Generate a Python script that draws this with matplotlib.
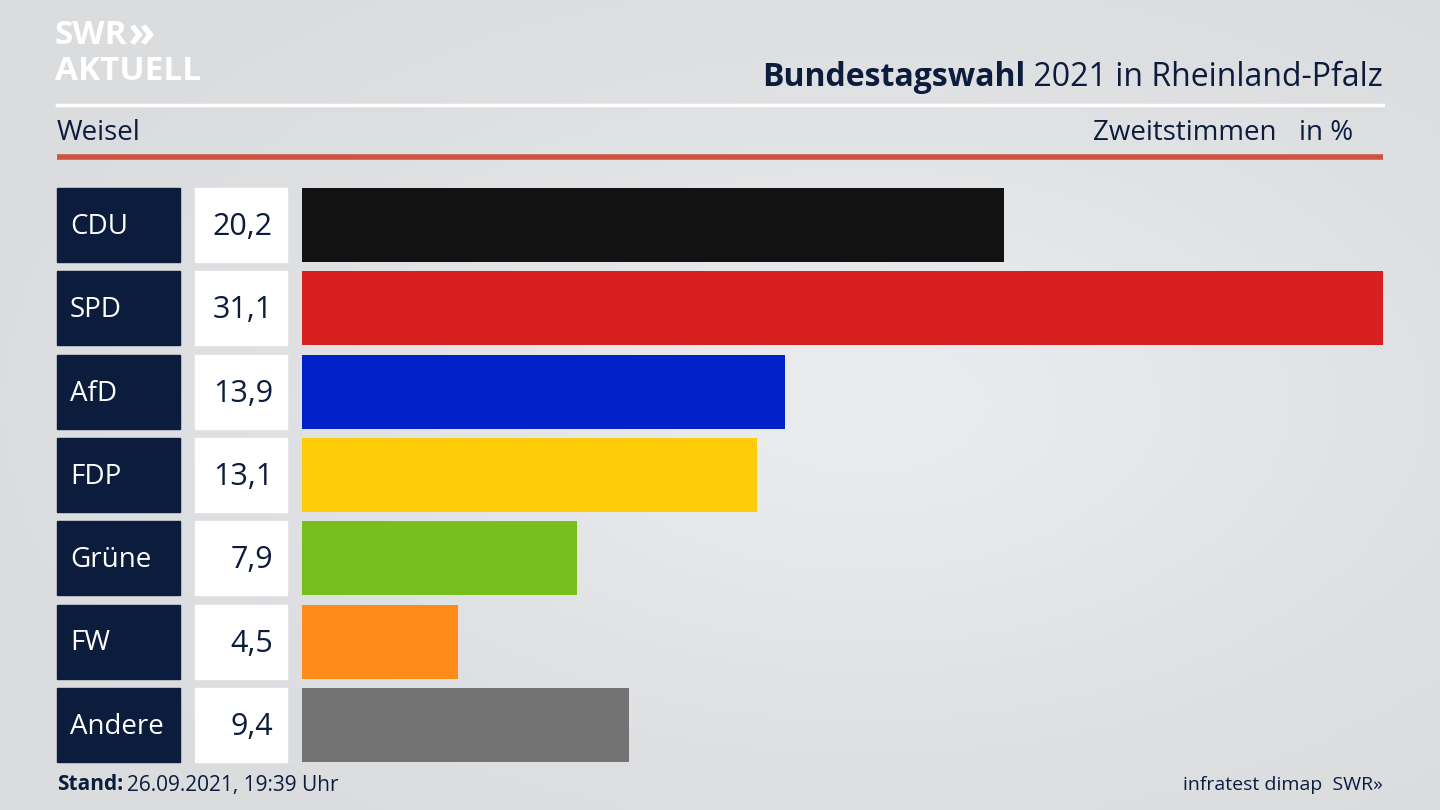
import matplotlib
matplotlib.use('Agg')
import matplotlib.pyplot as plt
import numpy as np
from matplotlib.patches import Rectangle

plt.rcParams['font.family'] = 'Open Sans'

parties = ['CDU', 'SPD', 'AfD', 'FDP', 'Grüne', 'FW', 'Andere']
values = [20.2, 31.1, 13.9, 13.1, 7.9, 4.5, 9.4]
colors = ['#121212', '#d81f1f', '#0022c8', '#ffcc0a', '#78be1e', '#ff8c19', '#737373']

navy = '#0c1c3c'
W, H = 1440, 810

fig = plt.figure(figsize=(14.4, 8.1), dpi=100)

# Hintergrund mit leichtem Verlauf
bg = fig.add_axes([0, 0, 1, 1])
bg.set_xlim(0, W)
bg.set_ylim(H, 0)
bg.axis('off')
yy, xx = np.mgrid[0:1:200j, 0:1:200j]
grad = 0.87 + 0.06 * np.exp(-((xx - 0.6) ** 2 + (yy - 0.5) ** 2) / 0.15)
rgb = np.dstack([grad * 0.985, grad * 0.99, grad * 1.0])
bg.imshow(np.clip(rgb, 0, 1), extent=[0, W, H, 0], aspect='auto', zorder=0)

# Kopfbereich
bg.text(55, 36, 'SWR', color='white', fontsize=24, fontweight='bold', va='center', ha='left')
bg.text(127, 36, '»', color='white', fontsize=32, fontweight='bold', va='center', ha='left')
bg.text(55, 72, 'AKTUELL', color='white', fontsize=24, fontweight='bold', va='center', ha='left')

t2 = bg.text(1383, 78, ' 2021 in Rheinland-Pfalz', color=navy, fontsize=23, va='center', ha='right')
fig.canvas.draw()
ext = t2.get_window_extent()
bg.text(ext.x0, H - 78, 'Bundestagswahl', color=navy, fontsize=23, fontweight='bold',
        va='center', ha='right', transform=None)

bg.plot([57, 1383], [105, 105], color='white', lw=2.5)
bg.text(57, 133, 'Weisel', color=navy, fontsize=20, va='center', ha='left')
bg.text(1277, 133, 'Zweitstimmen', color=navy, fontsize=20, va='center', ha='right')
bg.text(1353, 133, 'in %', color=navy, fontsize=20, va='center', ha='right')
bg.plot([57, 1383], [157, 157], color='#d0533f', lw=4, solid_capstyle='butt')

# Zeilen
top, step, hgt = 188, 83.3, 74
for i, (p, v) in enumerate(zip(parties, values)):
    y0 = top + i * step
    bg.add_patch(Rectangle((57, y0), 123, hgt, color=navy, zorder=2))
    bg.add_patch(Rectangle((195, y0), 92, hgt, color='white', zorder=2))
    bg.text(70, y0 + hgt / 2 + 2, p, color='white', fontsize=20, va='center', ha='left', zorder=3)
    bg.text(273, y0 + hgt / 2 + 2, f'{v:.1f}'.replace('.', ','), color=navy, fontsize=22,
            va='center', ha='right', zorder=3)

# Balken
x0, x1 = 302, 1383
y_top, y_bot = top, top + 6 * step + hgt
ax = fig.add_axes([x0 / W, 1 - y_bot / H, (x1 - x0) / W, (y_bot - y_top) / H])
ax.set_xlim(0, max(values))
n = len(parties)
ax.set_ylim(n - 1 + hgt / step / 2, -hgt / step / 2)
ax.barh(np.arange(n), values, height=hgt / step, color=colors)
ax.axis('off')

# Fußzeile
bg.text(57, 785, 'Stand:', color=navy, fontsize=15, fontweight='bold', va='center', ha='left')
bg.text(127, 785, '26.09.2021, 19:39 Uhr', color=navy, fontsize=15, va='center', ha='left')
bg.text(1383, 785, 'infratest dimap  SWR»', color=navy, fontsize=14, va='center', ha='right')

fig.savefig('out.png', dpi=100)
